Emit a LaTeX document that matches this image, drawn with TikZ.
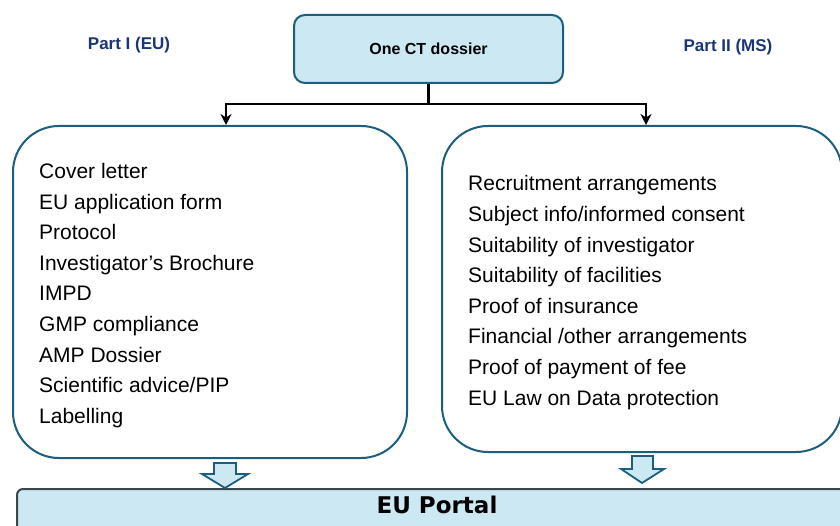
\documentclass[tikz,border=0pt]{standalone}
\usepackage{fontspec}
\setmainfont{Liberation Sans}
\newfontfamily\portalfont{DejaVu Sans}
\usetikzlibrary{arrows.meta}
\definecolor{boxblue}{HTML}{1B5E7E}
\definecolor{lightfill}{HTML}{CCE8F3}
\definecolor{navytext}{HTML}{1C3574}
\definecolor{portalborder}{HTML}{3A474D}
\tikzset{
  headlabel/.style={font=\bfseries\fontsize{17}{20}\selectfont, text=navytext, inner sep=0pt},
  topbox/.style={draw=boxblue, line width=2pt, fill=lightfill, rounded corners=11pt,
    minimum width=269pt, minimum height=68pt, font=\bfseries\fontsize{16}{19}\selectfont, inner sep=0pt},
  listbox/.style={draw=boxblue, line width=2pt, rounded corners=46pt, inner sep=0pt, anchor=north west},
  listtext/.style={align=left, font=\fontsize{21}{30.6}\selectfont, inner sep=0pt, anchor=west},
  connector/.style={line width=2.4pt, draw=black},
  blockarrow/.style={draw=boxblue, line width=1.8pt, fill=lightfill, line join=miter},
  portalbox/.style={draw=portalborder, line width=2pt, fill=lightfill, rounded corners=6pt}
}
\begin{document}
\begin{tikzpicture}[x=1pt,y=-1pt]
\useasboundingbox (0,0) rectangle (840,526);
\clip (0,0) rectangle (840,526);
\fill[white] (0,0) rectangle (840,526);

% headings
\node[headlabel] (p1) at (129,45) {Part I (EU)};
\node[headlabel] (p2) at (728,47) {Part II (MS)};

% top box
\node[topbox] (top) at (428.5,49) {One CT dossier};

% list boxes
\node[listbox, minimum width=394pt, minimum height=332pt] (left) at (12,125) {};
\node[listbox, minimum width=400pt, minimum height=326pt] (right) at (441,125) {};
\node[listtext] (lefttext) at ([xshift=27pt,yshift=-3.5pt]left.west)
  {Cover letter\\EU application form\\Protocol\\Investigator’s Brochure\\IMPD\\GMP compliance\\AMP Dossier\\Scientific advice/PIP\\Labelling};
\node[listtext] (righttext) at ([xshift=27pt,yshift=-3.5pt]right.west)
  {Recruitment arrangements\\Subject info/informed consent\\Suitability of investigator\\Suitability of facilities\\Proof of insurance\\Financial /other arrangements\\Proof of payment of fee\\EU Law on Data protection};

% connectors
\coordinate (split) at (top.south |- 0,104);
\coordinate (lturn) at (226,104);
\coordinate (rturn) at (646,104);
\draw[connector] (top.south) -- (split);
\draw[connector, -{Stealth[length=11pt,width=11pt]}] (split) -- (lturn) -- (lturn |- left.north);
\draw[connector, -{Stealth[length=11pt,width=11pt]}] (split) -- (rturn) -- (rturn |- right.north);

% portal
\draw[portalbox] (17,489) rectangle (860,545);
\node[font=\portalfont\bfseries\fontsize{23}{26}\selectfont, inner sep=0pt] (portal) at (437,505) {EU Portal};

% block arrows
\draw[blockarrow] (214,463) -- (236,463) -- (236,474) -- (248,474) -- (225,488) -- (202,474) -- (214,474) -- cycle;
\draw[blockarrow] (632,456) -- (653,456) -- (653,469) -- (664,469) -- (642,483) -- (621,469) -- (632,469) -- cycle;
\end{tikzpicture}
\end{document}
